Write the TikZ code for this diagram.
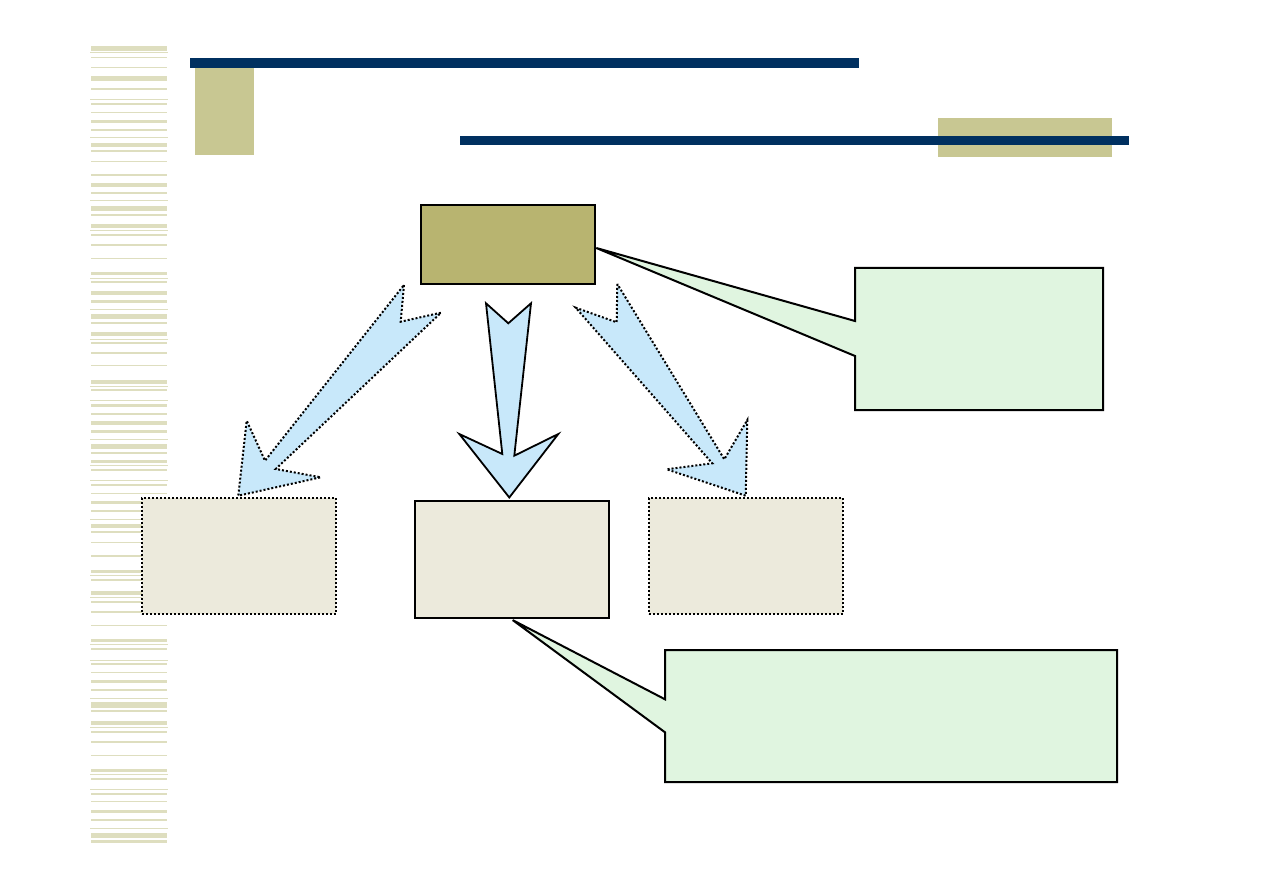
\documentclass[tikz,border=0pt]{standalone}
\usetikzlibrary{calc}
\definecolor{navy}{RGB}{0,48,96}
\definecolor{olive}{RGB}{200,199,146}
\definecolor{stripe}{RGB}{222,222,191}
\definecolor{topfill}{RGB}{184,180,112}
\definecolor{callgreen}{RGB}{224,245,224}
\definecolor{arrowblue}{RGB}{200,232,250}
\definecolor{beige}{RGB}{236,234,220}
\tikzset{
  topbox/.style={draw=black, line width=2pt, fill=topfill, inner sep=0pt},
  solidbox/.style={draw=black, line width=1.6pt, fill=beige, inner sep=0pt},
  dotbox/.style={draw=black, line width=2pt, dash pattern=on 2pt off 2pt, fill=beige, inner sep=0pt},
  callout/.style={draw=black, line width=2pt, fill=callgreen, line join=miter},
  blockarrow/.style={draw=black, line width=1.8pt, fill=arrowblue, line join=miter},
  dotarrow/.style={draw=black, line width=2pt, dash pattern=on 2pt off 2pt, fill=arrowblue, line join=miter},
  navybar/.style={fill=navy},
  oliveblock/.style={fill=olive}
}
\begin{document}
\begin{tikzpicture}[x=1pt,y=-1pt]
\useasboundingbox (0,0) rectangle (1263,893);
\fill[white] (0,0) rectangle (1263,893);
% left stripes
\foreach \a/\b in {46/50.7,56.7/57.7,66.7/67.7,76/80.7,88/89.7,102.7/104.7,111.7/112.7,119.7/123,128.7/130.7,142.7/146.7,150/151.7,160.7/161.7,173.7/175.7,182.7/186.7,192/193.7,206/210.7,213.7/215.7,223.7/228,233.7/235.7,243.7/245.7,258/259,271.7/275,280.7/282.7,290.7/294.7,299.7/303,314/318.7,321.7/323.7,331.7/335.7,341.7/343.7,351.7/353.7,365.3/366.3,379.7/383.7,388.7/390.7,403.7/407,412.7/415,421/425,430/432.7,443.7/449,451.7/453.7,459.7/463,469/471,483.7/485.7,493/494,500.7/504,509.7/511.7,523.7/527.7,530.7/532.7,541.7/542.7,554.7/556.7,569.7/573,578.7/580.7,590.7/594.7,600.7/603,611/613,624.7/625.7,638.7/642,647.7/649.7,662.7/664.7,672/673,679.7/683,688.7/690.7,702.3/707.7,709.7/712.3,721/725,730.7/732.7,741/743,754.7/755.7,768.7/772,777.7/779.7,792.7/794.7,801.3/802.3,809.7/813,818.7/820.7,832.7/838,840/842.7}
  \fill[stripe] (91,\a) rectangle (167,\b);
\foreach \c in {53,100,138,201,230.3,278.3,309,339,386.3,400.7,439.3,465.7,480.7,519,575,597.3,644.7,660.3,698.3,727.3,774.7,789.7,828.7}
  \fill[stripe] (90.3,\c-0.5) rectangle (167.7,\c+0.5);
% header decoration
\fill[oliveblock] (195,67.7) rectangle (254,154.7);
\fill[navybar] (190,58) rectangle (859,67.7);
\fill[oliveblock] (938,118) rectangle (1112,157);
\fill[navybar] (460,136) rectangle (1129,145);
% boxes
\node[topbox, minimum width=174pt, minimum height=78.7pt] (top) at (508.3,244.7) {};
\node[dotbox, minimum width=194pt, minimum height=116pt] (left) at (239,556) {};
\node[solidbox, minimum width=194pt, minimum height=117pt] (mid) at (512,559.5) {};
\node[dotbox, minimum width=194pt, minimum height=116pt] (right) at (746,556) {};
% callouts
\coordinate (tip1) at ($(top.east)+(0,3.3)$);
\draw[callout] (855,268) -- (1103,268) -- (1103,410) -- (855,410) -- (855,356) -- (tip1) -- (855,321) -- cycle;
\coordinate (tip2) at ($(mid.south)+(0.7,1.3)$);
\draw[callout] (665,650) -- (1117,650) -- (1117,782) -- (665,782) -- (665,732.3) -- (tip2) -- (665,699.3) -- cycle;
% block arrows
\coordinate (tip3) at ($(mid.north)+(-2.7,-2.7)$);
\draw[blockarrow] (486,303.3) -- (508.3,323.3) -- (531,303.3) -- (514.3,455.7) -- (558.3,434) -- (tip3) -- (459.3,434) -- (502.3,454) -- cycle;
\coordinate (tip4) at ($(left.north)+(-0.7,-1.3)$);
\draw[dotarrow] (404,285) -- (400.7,321.7) -- (441,312.7) -- (275.7,469) -- (320.7,477.3) -- (tip4) -- (246.7,420.7) -- (265,460.7) -- cycle;
\coordinate (tip5) at ($(right.north)+(-0.3,-1.3)$);
\draw[dotarrow] (617.3,284) -- (616.7,322.3) -- (575.7,307.7) -- (712.3,463.3) -- (666.7,469.3) -- (tip5) -- (747.3,420) -- (724.3,459.3) -- cycle;
\end{tikzpicture}
\end{document}
